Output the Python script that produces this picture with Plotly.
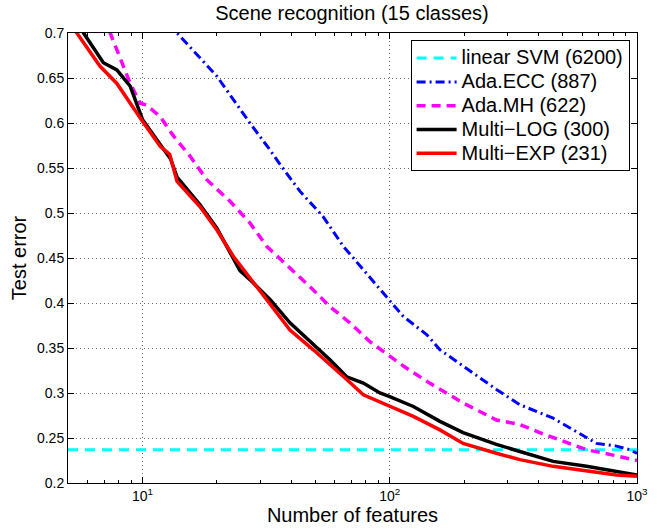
import numpy as np
import plotly.graph_objects as go

# ---------------- data ----------------
svm_x = [5, 1000]
svm_y = [0.237, 0.237]

ecc_x = [13.0, 13.8, 20.0, 27.2, 32.8, 36.0, 43.4, 53.8, 64.9, 78.2, 94.2, 113.5, 141, 159.6, 198, 270, 336, 458, 569, 686, 826, 934, 1000]
ecc_y = [0.712, 0.700, 0.652, 0.600, 0.570, 0.554, 0.524, 0.496, 0.463, 0.437, 0.411, 0.385, 0.365, 0.348, 0.330, 0.304, 0.287, 0.272, 0.257, 0.244, 0.241, 0.237, 0.233]

mh_x = [7.0, 7.41, 8.92, 9.8, 10.4, 11.8, 13.4, 15.6, 18.2, 22.6, 27.2, 31.8, 39.5, 47.6, 57.3, 69, 83.2, 100, 113.5, 145, 198, 270, 336, 404, 503, 625, 800, 1000]
mh_y = [0.717, 0.700, 0.644, 0.622, 0.620, 0.607, 0.585, 0.563, 0.537, 0.513, 0.489, 0.463, 0.439, 0.418, 0.396, 0.378, 0.357, 0.341, 0.330, 0.311, 0.289, 0.270, 0.265, 0.256, 0.246, 0.237, 0.231, 0.225]

log_x = [5.0, 5.78, 6.95, 7.88, 8.92, 10, 11.8, 13.0, 13.8, 17.1, 20.0, 23.3, 24.8, 27.2, 32.8, 39.5, 47.6, 57.3, 67, 78.2, 91.3, 100, 124.6, 159.6, 198, 270, 336, 458, 625, 826, 1000]
log_y = [0.730, 0.700, 0.667, 0.659, 0.641, 0.604, 0.576, 0.560, 0.540, 0.509, 0.483, 0.450, 0.436, 0.426, 0.404, 0.378, 0.358, 0.337, 0.318, 0.311, 0.300, 0.296, 0.285, 0.2685, 0.256, 0.243, 0.235, 0.224, 0.2185, 0.213, 0.209]

exp_x = [5.0, 5.43, 6.74, 7.88, 10, 11.8, 12.9, 13.8, 17.1, 20.0, 23.3, 27.2, 32.8, 39.5, 49.1, 57.3, 67, 78.2, 100, 124.6, 159.6, 198, 270, 336, 458, 625, 826, 1000]
exp_y = [0.715, 0.700, 0.663, 0.644, 0.602, 0.574, 0.565, 0.535, 0.507, 0.481, 0.452, 0.428, 0.400, 0.370, 0.348, 0.332, 0.315, 0.298, 0.285, 0.274, 0.259, 0.244, 0.233, 0.226, 0.2185, 0.213, 0.209, 0.2075]

series_names = ["linear SVM (6200)", "Ada.ECC (887)", "Ada.MH (622)", "Multi\u2212LOG (300)", "Multi\u2212EXP (231)"]

y_ticks = [0.2, 0.25, 0.3, 0.35, 0.4, 0.45, 0.5, 0.55, 0.6, 0.65, 0.7]
y_ticktext = ["0.2", "0.25", "0.3", "0.35", "0.4", "0.45", "0.5", "0.55", "0.6", "0.65", "0.7"]
x_ticks = [10, 100, 1000]
x_ticktext = ["10<sup>1</sup>", "10<sup>2</sup>", "10<sup>3</sup>"]
x_minor = [m * d for d in (1, 10, 100) for m in range(2, 10) if m * d >= 5]

FONT = "Liberation Sans, Arial, Helvetica, sans-serif"


def lg(name):
    return '<span style="font-size:20px">' + name + "</span>"


fig = go.Figure()
fig.add_trace(go.Scatter(x=svm_x, y=svm_y, mode="lines", name=lg(series_names[0]),
                         line=dict(color="#00ffff", width=3, dash="10px,7px")))
fig.add_trace(go.Scatter(x=ecc_x, y=ecc_y, mode="lines", name=lg(series_names[1]),
                         line=dict(color="#0000ff", width=3, dash="9px,4px,2px,4px")))
fig.add_trace(go.Scatter(x=mh_x, y=mh_y, mode="lines", name=lg(series_names[2]),
                         line=dict(color="#ff00ff", width=3.5, dash="9px,6px")))
fig.add_trace(go.Scatter(x=log_x, y=log_y, mode="lines", name=lg(series_names[3]),
                         line=dict(color="#000000", width=3.5)))
fig.add_trace(go.Scatter(x=exp_x, y=exp_y, mode="lines", name=lg(series_names[4]),
                         line=dict(color="#ff0000", width=3.5)))

fig.update_layout(
    width=657, height=529,
    margin=dict(l=68, r=20, t=33, b=46, autoexpand=False),
    paper_bgcolor="white", plot_bgcolor="white",
    font=dict(family=FONT, color="black"),
    title=dict(text="Scene recognition (15 classes)", x=352/657, xanchor="center",
               y=1 - 13/529, yanchor="middle", yref="container",
               font=dict(size=20, color="black")),
    showlegend=True,
    legend=dict(x=0.987, xanchor="right", y=0.984, yanchor="top",
                bgcolor="white", bordercolor="black", borderwidth=1,
                font=dict(size=16, color="black"), tracegroupgap=0,
                itemwidth=40),
)
fig.update_xaxes(
    type="log", range=[np.log10(5), 3],
    tickmode="array", tickvals=x_ticks, ticktext=x_ticktext,
    ticks="inside", ticklen=6, tickcolor="black",
    showline=True, linecolor="black", linewidth=1, mirror="ticks",
    showgrid=True, gridcolor="#666666", griddash="1px,3px", gridwidth=1,
    zeroline=False, tickfont=dict(size=14),
    minor=dict(tickmode="array", tickvals=x_minor, ticks="inside", ticklen=3,
               tickcolor="black", showgrid=False),
    title=dict(text="Number of features", font=dict(size=20), standoff=3),
)
fig.update_yaxes(
    range=[0.2, 0.7],
    tickmode="array", tickvals=y_ticks, ticktext=y_ticktext,
    ticks="inside", ticklen=6, tickcolor="black",
    showline=True, linecolor="black", linewidth=1, mirror="ticks",
    showgrid=True, gridcolor="#666666", griddash="1px,3px", gridwidth=1,
    zeroline=False, tickfont=dict(size=14),
    title=dict(text="Test error", font=dict(size=20), standoff=4),
)

fig.write_html("out.html")
